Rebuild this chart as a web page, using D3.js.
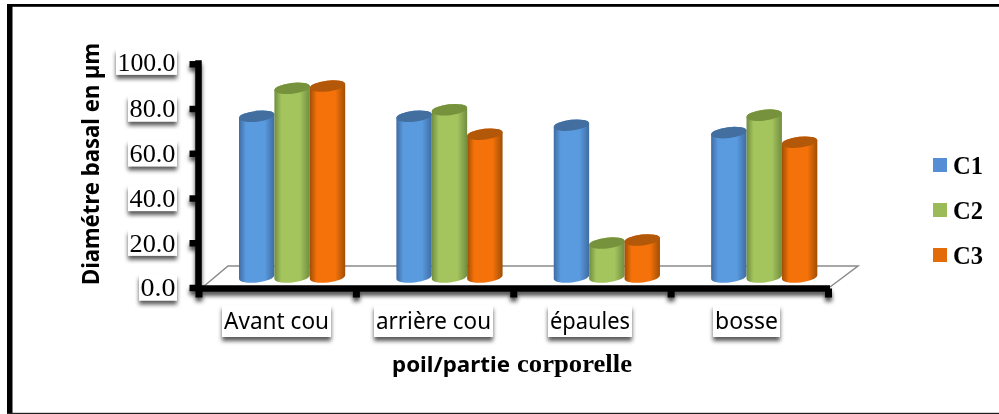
<!DOCTYPE html>
<html><head><meta charset="utf-8">
<script src="https://cdn.jsdelivr.net/npm/d3@7"></script>
<style>html,body{margin:0;padding:0;background:#fff;overflow:hidden}svg{display:block}</style>
</head><body><svg id="c" width="999" height="414"></svg>
<script>
const categories = ["Avant cou","arrière cou","épaules","bosse"];
const seriesNames = ["C1","C2","C3"];
const C1 = [72.3,72.3,68.3,65];
const C2 = [84.8,75.2,15.6,72.8];
const C3 = [85.8,64.3,17,60.7];
const seriesValues = [C1,C2,C3];
const yTicks = [0,20,40,60,80,100];
const colors = {C1:["#3f6ca2","#5a9be0","#436ea0","#558ed5"],C2:["#708d40","#a4c45e","#76923c","#9bbb59"],C3:["#a04e05","#f5720a","#b35808","#e36c09"]};

const svg = d3.select("#c");
const defs = svg.append("defs");
const sh = defs.append("filter").attr("id","sh").attr("x","-20%").attr("y","-30%").attr("width","140%").attr("height","170%");
sh.append("feDropShadow").attr("dx",0).attr("dy",4).attr("stdDeviation",2.2).attr("flood-color","#000").attr("flood-opacity",.7);
const sh2 = defs.append("filter").attr("id","sh2").attr("x","-10%").attr("y","-10%").attr("width","120%").attr("height","140%");
sh2.append("feDropShadow").attr("dx",0).attr("dy",4).attr("stdDeviation",2).attr("flood-color","#000").attr("flood-opacity",.65);
seriesNames.forEach(s=>{
  const g = defs.append("linearGradient").attr("id","g"+s);
  [[0,colors[s][0]],[.2,colors[s][1]],[.72,colors[s][1]],[1,colors[s][0]]].forEach(p=>g.append("stop").attr("offset",p[0]).attr("stop-color",p[1]));
});

// frame
svg.append("rect").attr("x",7).attr("y",4).attr("width",992).attr("height",2.8).attr("fill","#000");
svg.append("rect").attr("x",7).attr("y",4).attr("width",5.5).attr("height",410).attr("fill","#000");
svg.append("rect").attr("x",7).attr("y",412.8).attr("width",992).attr("height",1.2).attr("fill","#222");

const x0 = d3.scaleBand().domain(categories).range([198.5,828]);
const barW = 35.4;
const x1 = d3.scaleBand().domain(seriesNames).range([0,barW*3]);
const y = d3.scaleLinear().domain([0,100]).range([287.5,63.8]);
const groupOffset = 40.5, floorOffset = 9.5;

// floor
svg.append("path").attr("d",`M203,287L228,266H858L830,287`).attr("fill","none").attr("stroke","#8a8a8a").attr("stroke-width",1.5);

// bars
const rx = barW/2, ry = 5.4, tilt = 2, rot = -6.5;
function cyl(xl,top,bot){
  const xr = xl+barW;
  return `M${xl},${top+tilt}L${xl},${bot+tilt-1}A${rx},${ry} ${rot} 0 0 ${xr},${bot-tilt-1}L${xr},${top-tilt}A${rx},${ry} ${rot} 0 0 ${xl},${top+tilt}Z`;
}
function cap(xl,top){
  const xr = xl+barW;
  return `M${xl},${top+tilt}A${rx},${ry} ${rot} 0 1 ${xr},${top-tilt}A${rx},${ry} ${rot} 0 1 ${xl},${top+tilt}Z`;
}
seriesNames.forEach((s,si)=>{
  const g = svg.append("g");
  const data = categories.map((c,i)=>({c,v:seriesValues[si][i]}));
  g.selectAll("path.b").data(data).join("path").attr("class","b")
    .attr("d",d=>cyl(x0(d.c)+groupOffset+x1(s),y(d.v)-floorOffset,y(0)-floorOffset))
    .attr("fill",`url(#g${s})`);
  g.selectAll("path.t").data(data).join("path").attr("class","t")
    .attr("d",d=>cap(x0(d.c)+groupOffset+x1(s),y(d.v)-floorOffset))
    .attr("fill",colors[s][2]);
});

// axes
const axG = svg.append("g").attr("filter","url(#sh)");
const axisY = d3.axisLeft(y).tickValues(yTicks).tickSize(9).tickFormat("");
const ay = axG.append("g").attr("transform","translate(198.5,0)").call(axisY);
ay.selectAll("line").attr("stroke","#000").attr("stroke-width",6.5);
ay.select(".domain").attr("stroke","#000").attr("stroke-width",6.5).attr("d",`M0,${y(100)-3.5}V${y(0)+4}`);
const xTickVals = categories.map(c=>x0(c)).concat([x0.range()[1]]);
const xs = d3.scaleLinear().domain([198.5,828]).range([198.5,828]);
const axisX = d3.axisBottom(xs).tickValues(xTickVals).tickSize(9).tickFormat("");
const ax = axG.append("g").attr("transform","translate(0,288.5)").call(axisX);
ax.selectAll("line").attr("stroke","#000").attr("stroke-width",7);
ax.select(".domain").attr("stroke","#000").attr("stroke-width",6.5).attr("d","M195,0H830");

function boxed(x,yc,w,h,txt,font,size,tl){
  const g = svg.append("g");
  g.append("rect").attr("x",x).attr("y",yc-h/2).attr("width",w).attr("height",h).attr("fill","#fff").attr("filter","url(#sh2)");
  g.append("text").attr("x",x+(w-tl)/2).attr("y",yc).attr("dy",".34em").attr("font-family",font).attr("font-size",size)
    .attr("textLength",tl).attr("lengthAdjust","spacingAndGlyphs").attr("fill","#000").text(txt);
}
// y tick labels
yTicks.forEach(v=>{
  const t = d3.format(".1f")(v);
  const tl = t.length===5?58:t.length===4?46:35;
  boxed(176-tl-2, y(v)+(v===100?-2:0), tl+3, 26, t, "'Liberation Serif',serif", 26, tl);
});
// category labels
const catW = {"Avant cou":[222,109,105],"arrière cou":[374,119,115],"épaules":[548,84,80],"bosse":[713,67,63]};
categories.forEach(c=>{
  const w = catW[c];
  boxed(w[0],321,w[1],32,c,"'Noto Sans',sans-serif",24,w[2]);
});
// titles
svg.append("text").attr("transform","translate(99,285) rotate(-90)").attr("font-family","'Noto Sans',sans-serif").attr("font-weight",700)
  .attr("font-size",22.5).attr("textLength",242).attr("lengthAdjust","spacingAndGlyphs").text("Diamétre basal en µm");
svg.append("text").attr("x",392).attr("y",372).attr("font-family","'Noto Sans',sans-serif").attr("font-weight",700).attr("font-size",22)
  .attr("textLength",118).attr("lengthAdjust","spacingAndGlyphs").text("poil/partie");
svg.append("text").attr("x",517).attr("y",372).attr("font-family","'Liberation Serif',serif").attr("font-weight",700).attr("font-size",25)
  .attr("textLength",115).attr("lengthAdjust","spacingAndGlyphs").text("corporelle");
// legend
const ly = d3.scalePoint().domain(seriesNames).range([165,255]);
seriesNames.forEach(s=>{
  svg.append("rect").attr("x",933).attr("y",ly(s)-7).attr("width",14).attr("height",14).attr("fill",colors[s][3]);
  svg.append("text").attr("x",953).attr("y",ly(s)+8.5).attr("font-family","'Liberation Serif',serif").attr("font-weight",700).attr("font-size",26)
    .attr("textLength",30).attr("lengthAdjust","spacingAndGlyphs").text(s);
});
</script></body></html>
